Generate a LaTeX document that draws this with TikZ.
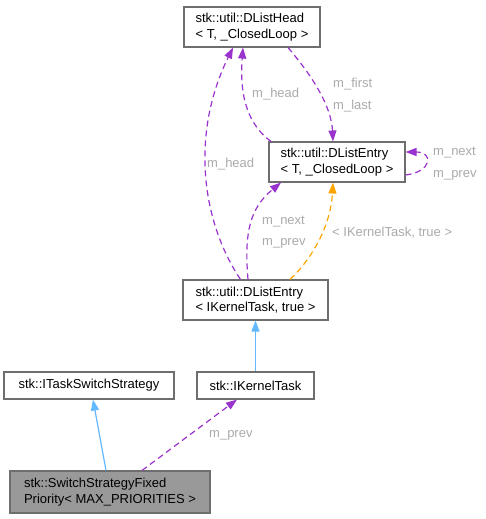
\documentclass[tikz,border=0pt]{standalone}
\usepackage{fontspec}
\setmainfont{Liberation Sans}
\usetikzlibrary{arrows.meta}
\definecolor{boxline}{HTML}{6E6E6E}
\definecolor{selfill}{HTML}{999999}
\definecolor{usecol}{HTML}{9A32CD}
\definecolor{inhcol}{HTML}{63B8FF}
\definecolor{tplcol}{HTML}{FFA500}
\definecolor{lblcol}{HTML}{ABABAB}
\tikzset{
  cls/.style={draw=boxline, line width=1.1pt, fill=white, inner sep=0pt, align=left,
    font=\fontsize{13}{15.5}\selectfont},
  usage/.style={draw=usecol, line width=1.2pt, dash pattern=on 6pt off 4pt,
    -{Triangle[length=11pt,width=8pt]}},
  inherit/.style={draw=inhcol, line width=1.2pt, -{Triangle[length=11pt,width=8pt]}},
  templ/.style={draw=tplcol, line width=1.2pt, dash pattern=on 6pt off 4pt,
    -{Triangle[length=11pt,width=8pt]}},
  lbl/.style={text=lblcol, anchor=west, inner sep=0pt, font=\fontsize{13}{15.5}\selectfont}
}
\begin{document}
\begin{tikzpicture}[x=1pt,y=-1pt]
\useasboundingbox[fill=white] (0,0) rectangle (486,519);
% nodes
\node[cls, minimum width=136pt, minimum height=40pt] (head) at (252,27) {stk::util::DListHead\\< T, \_ClosedLoop >};
\node[cls, minimum width=136pt, minimum height=40pt] (entT) at (337,162) {stk::util::DListEntry\\< T, \_ClosedLoop >};
\node[cls, minimum width=145pt, minimum height=40pt] (entIK) at (255.5,300) {stk::util::DListEntry\\< IKernelTask, true >};
\node[cls, minimum width=170pt, minimum height=27pt] (its) at (89,385.5) {stk::ITaskSwitchStrategy};
\node[cls, minimum width=117pt, minimum height=27pt] (ik) at (255.5,385.5) {stk::IKernelTask};
\node[cls, fill=selfill, minimum width=200pt, minimum height=42pt] (sw) at (110,492) {stk::SwitchStrategyFixed\\Priority< MAX\_PRIORITIES >};
% edges
\draw[usage] ([xshift=36pt]head.south) .. controls (302,64) and (331,100) .. ([xshift=-4pt]entT.north);
\draw[usage] ([xshift=-66pt]entT.north) .. controls (250,126) and (239,100) .. ([xshift=-9pt]head.south);
\draw[usage] ([xshift=-15pt]entIK.north) .. controls (202,222) and (190,135) .. ([xshift=-19pt]head.south);
\draw[usage] ([yshift=-13pt]entT.east) .. controls (432,172) and (434,152) .. ([yshift=10pt]entT.east);
\draw[usage] ([xshift=-7.5pt]entIK.north) .. controls (244,232) and (250,208) .. ([xshift=-56pt]entT.south);
\draw[templ] ([xshift=34.5pt]entIK.north) .. controls (315,256) and (331,222) .. ([xshift=-4pt]entT.south);
\draw[inherit] (ik.north) -- (entIK.south);
\draw[inherit] ([xshift=-4pt]sw.north) -- ([xshift=4pt]its.south);
\draw[usage] ([xshift=32pt]sw.north) -- ([xshift=-18.5pt]ik.south);
% labels
\node[lbl] (l1) at (333,84) {m\_first};
\node[lbl] (l2) at (333,106) {m\_last};
\node[lbl] (l3) at (252,94) {m\_head};
\node[lbl] (l4) at (207,164) {m\_head};
\node[lbl] (l5) at (433,153) {m\_next};
\node[lbl] (l6) at (433,175) {m\_prev};
\node[lbl] (l7) at (262,222) {m\_next};
\node[lbl] (l8) at (262,243) {m\_prev};
\node[lbl] (l9) at (332,233) {< IKernelTask, true >};
\node[lbl] (l10) at (209,435) {m\_prev};
\end{tikzpicture}
\end{document}
